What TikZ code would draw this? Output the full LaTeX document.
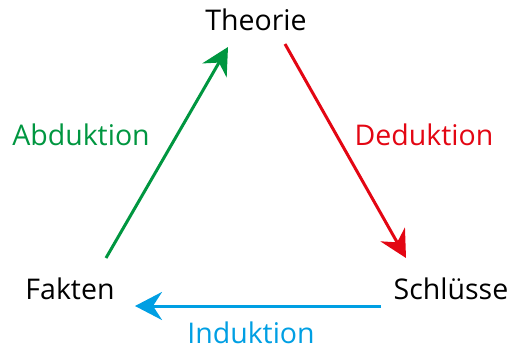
\documentclass[tikz,border=0pt]{standalone}
\usepackage{fontspec}
\setmainfont{Open Sans}
\usetikzlibrary{arrows.meta}
\definecolor{cgreen}{RGB}{0,150,64}
\definecolor{cred}{RGB}{227,6,19}
\definecolor{cblue}{RGB}{0,159,227}
\tikzset{
  lbl/.style={inner sep=0pt, anchor=base, font=\fontsize{28.5}{32}\selectfont},
  conn/.style={line width=3pt, -{Stealth[length=27pt,width=28pt,inset=9pt]}, shorten >=0pt}
}
\begin{document}
\begin{tikzpicture}[x=1pt,y=-1pt]
\useasboundingbox (0,0) rectangle (508,350);
\node[lbl] (theorie) at (256,31) {Theorie};
\node[lbl] (fakten) at (70,299) {Fakten};
\node[lbl] (schluesse) at (451,299) {Schlüsse};
\node[lbl, text=cgreen] (abd) at (81,145) {Abduktion};
\node[lbl, text=cred] (ded) at (424,145) {Deduktion};
\node[lbl, text=cblue] (ind) at (251,343) {Induktion};
\coordinate (gs) at (106,258);
\coordinate (gt) at (228,47);
\coordinate (rs) at (285,44);
\coordinate (rt) at (406,258);
\coordinate (bs) at (381,306);
\coordinate (bt) at (135,306);
\draw[conn, cgreen] (gs) -- (gt);
\draw[conn, cred] (rs) -- (rt);
\draw[conn, cblue] (bs) -- (bt);
\end{tikzpicture}
\end{document}
